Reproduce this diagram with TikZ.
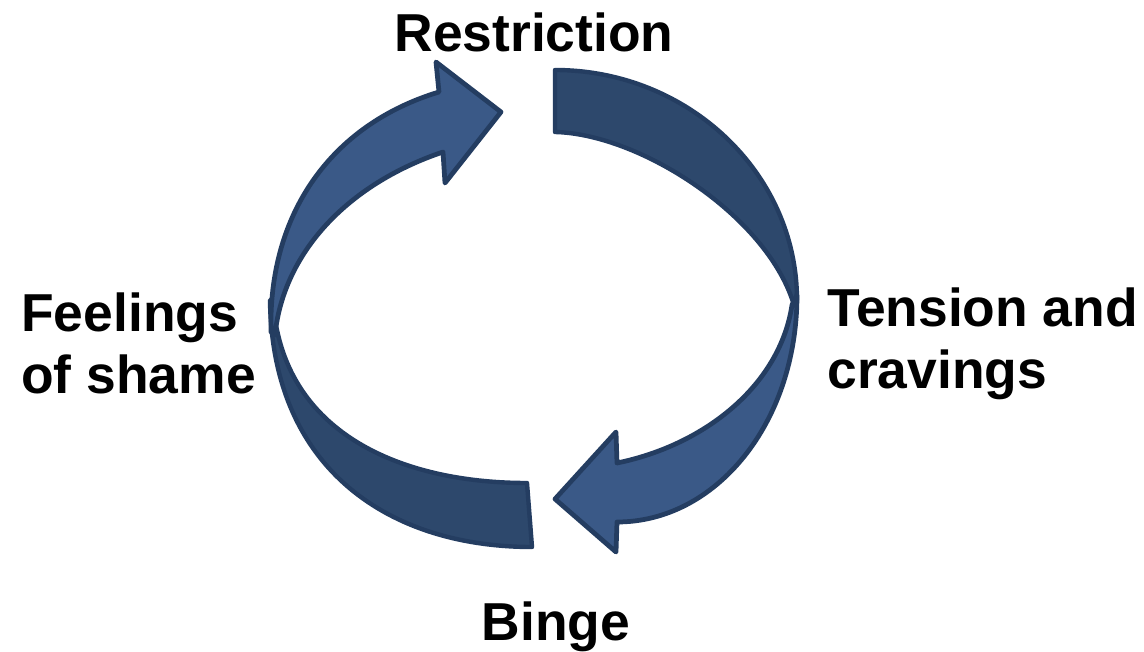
\documentclass[tikz,border=0pt]{standalone}
\usepackage{fontspec}
\setmainfont{Liberation Sans}
\definecolor{frontblue}{RGB}{58,89,135}
\definecolor{backblue}{RGB}{45,72,108}
\definecolor{edgeblue}{RGB}{36,61,97}
\begin{document}
\begin{tikzpicture}[x={(0.02cm,0cm)},y={(0cm,-0.02cm)},
  frontface/.style={fill=frontblue, draw=edgeblue, line width=2.7pt, line join=round},
  backface/.style={fill=backblue, draw=edgeblue, line width=2.5pt, line join=round},
  lbl/.style={font=\bfseries\fontsize{30.4}{35.4}\selectfont, inner sep=0pt, text=black}]
\useasboundingbox (0,0) rectangle (1144,652);
\fill[white] (0,0) rectangle (1144,652);
% back faces (dark bands)
\draw[backface] (555,70) .. controls (688,70) and (797,173) .. (797,300)
  -- (793,302) .. controls (765,215) and (640,134) .. (555,132) -- cycle;
\draw[backface] (532,547) .. controls (390,547) and (272,470) .. (270,300)
  -- (277,330) .. controls (300,440) and (410,483) .. (527,483) -- cycle;
% front faces (arrows)
\draw[frontface] (271,332) .. controls (268,215) and (330,125) .. (439,92)
  -- (436,62) -- (501,112) -- (445,183) -- (443,152)
  .. controls (345,185) and (283,255) .. (275,335) -- cycle;
\draw[frontface] (797,295) .. controls (797,423) and (716,522) .. (617,522)
  -- (616,552) -- (555,499) -- (616,432) -- (617,463)
  .. controls (705,445) and (780,385) .. (792,305) -- cycle;
% labels
\node[lbl, anchor=base] (restriction) at (534,52) {Restriction};
\node[lbl, anchor=base] (binge) at (556,640) {Binge};
\node[lbl, anchor=north west, align=left] (tension) at (827,287) {Tension and\\cravings};
\node[lbl, anchor=north west, align=left] (shame) at (21,292) {Feelings\\of shame};
\end{tikzpicture}
\end{document}
